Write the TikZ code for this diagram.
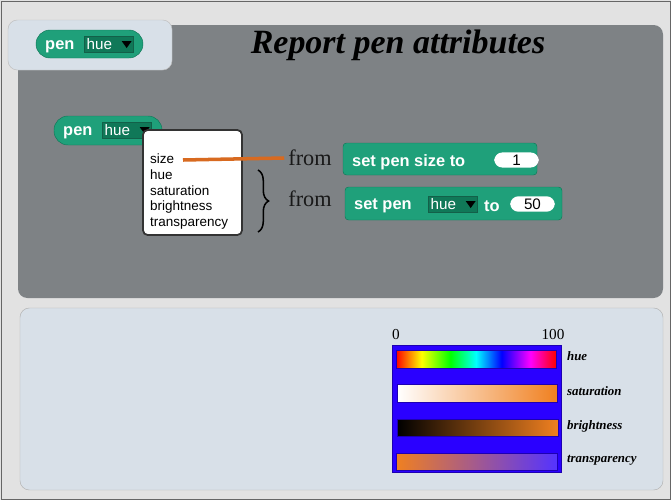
\documentclass[tikz,border=0pt]{standalone}
\usepackage{fontspec}
\newfontfamily\blockfont{Liberation Sans}
\newfontfamily\labelfont{Liberation Serif}
\usetikzlibrary{calc,positioning,decorations.pathreplacing}
\definecolor{snapgreen}{HTML}{1FA07A}
\definecolor{darkgreen}{HTML}{107858}
\definecolor{panelgray}{HTML}{7E8285}
\definecolor{panelblue}{HTML}{D8E0E8}
\definecolor{pagegray}{HTML}{E2E2E2}
\definecolor{barblue}{HTML}{2A00FF}
\definecolor{penorange}{HTML}{F08020}
\definecolor{lineorange}{HTML}{D86A20}
\pgfdeclarehorizontalshading{hueshade}{100bp}{color(0bp)=(red);color(25bp)=(red);color(33bp)=(yellow);color(42bp)=(green);color(50bp)=(cyan);color(58bp)=(blue);color(67bp)=(magenta);color(75bp)=(red);color(100bp)=(red)}
\tikzset{
  blocktext/.style={text=white,font=\blockfont\bfseries\fontsize{14}{14}\selectfont,inner sep=0pt,anchor=west,yshift=-2pt},
  pill/.style={fill=snapgreen,draw=darkgreen,rounded corners=12pt},
  cmd/.style={fill=snapgreen,draw=darkgreen,rounded corners=3pt},
  slot/.style={fill=darkgreen,draw=snapgreen!60!black,inner xsep=2pt,inner ysep=2pt,text=white,font=\blockfont\fontsize{13}{13}\selectfont,anchor=west},
  numslot/.style={fill=white,rounded corners=7pt,minimum width=38,inner ysep=2pt,font=\blockfont\fontsize{13}{13}\selectfont,anchor=west},
  menuitem/.style={font=\blockfont\fontsize{11.5}{11.5}\selectfont,anchor=west,inner sep=0pt},
  fromlabel/.style={font=\labelfont\fontsize{19}{19}\selectfont,text=black!90},
  barlabel/.style={font=\labelfont\bfseries\itshape\fontsize{11}{11}\selectfont,anchor=west},
  bar/.style={draw=barblue!70!black}
}
\newcommand\downtri[1]{\fill[black] ($(#1.east)+(-12,-3)$) -- ++(10,0) -- ++(-5,7) -- cycle;}
\begin{document}
\begin{tikzpicture}[x=0.03cm,y=-0.03cm]
\useasboundingbox (0,0) rectangle (671,500);
\fill[pagegray] (0,0) rectangle (671,500);
\draw[black!60] (1,1) rectangle (670,499);
% panels
\fill[panelgray,rounded corners=8pt] (18,25) rectangle (663,298);
\fill[panelblue,draw=black!25,rounded corners=8pt] (8,20) rectangle (172,70);
\fill[panelblue,draw=black!30,rounded corners=8pt] (20,308) rectangle (663,490);
\node[font=\labelfont\bfseries\itshape\fontsize{29}{29}\selectfont] (title) at (398,45) {Report pen attributes};
% reporter in the tab
\draw[pill] (36,30) rectangle (143,58);
\node[blocktext] (tabpen) at (45,44) {pen};
\node[slot] (tabhue) at (84,44) {\makebox[38pt][l]{hue}};
\downtri{tabhue}
% reporter in the panel
\draw[pill] (54,116) rectangle (162,145);
\node[blocktext] (pen) at (63,130) {pen};
\node[slot] (hue) at (102,130) {\makebox[38pt][l]{hue}};
\downtri{hue}
% menu
\draw[fill=white,draw=black!80,line width=1.5pt,rounded corners=4pt] (143,130) rectangle (242,235);
\node[menuitem] (size) at (150,159) {size};
\node[menuitem] (mhue) at (150,175) {hue};
\node[menuitem] (sat) at (150,191) {saturation};
\node[menuitem] (bri) at (150,207) {brightness};
\node[menuitem] (tra) at (150,224) {transparency};
\node[fromlabel] (from1) at (310,158) {from};
\node[fromlabel] (from2) at (310,199) {from};
\draw[lineorange,line width=3pt] (183,160) -- (from1.west);
\draw[decorate,decoration={brace,amplitude=9pt},line width=1.3pt] (258,170) -- (258,232);
% command blocks
\draw[cmd] (343,143) rectangle (537,175);
\node[blocktext] (setsize) at (352,160) {set pen size to};
\node[numslot] (one) at (494,160) {1};
\draw[cmd] (345,187) rectangle (562,220);
\node[blocktext] (setpen) at (354,204) {set pen};
\node[slot] (hue2) at (428,204) {\makebox[38pt][l]{hue}};
\downtri{hue2}
\node[blocktext] (to) at (484,204) {to};
\node[numslot] (fifty) at (510,204) {50};
% colour bars
\fill[barblue,draw=barblue!70!black] (392,345) rectangle (561,472);
\node[font=\labelfont\fontsize{13}{13}\selectfont] (zero) at (396,335) {0};
\node[font=\labelfont\fontsize{13}{13}\selectfont] (hundred) at (553,335) {100};
\shade[shading=hueshade,bar] (396,350) rectangle (556,368);
\shade[left color=white,right color=penorange,bar] (397,384) rectangle (557,402);
\shade[left color=black,right color=penorange,bar] (397,419) rectangle (558,436);
\shade[left color=penorange,right color=barblue!80!white,bar] (396,453) rectangle (557,470);
\node[barlabel] (lhue) at (563,356) {hue};
\node[barlabel] (lsat) at (563,391) {saturation};
\node[barlabel] (lbri) at (563,426) {brightness};
\node[barlabel] (ltra) at (563,460) {transparency};
\end{tikzpicture}
\end{document}
